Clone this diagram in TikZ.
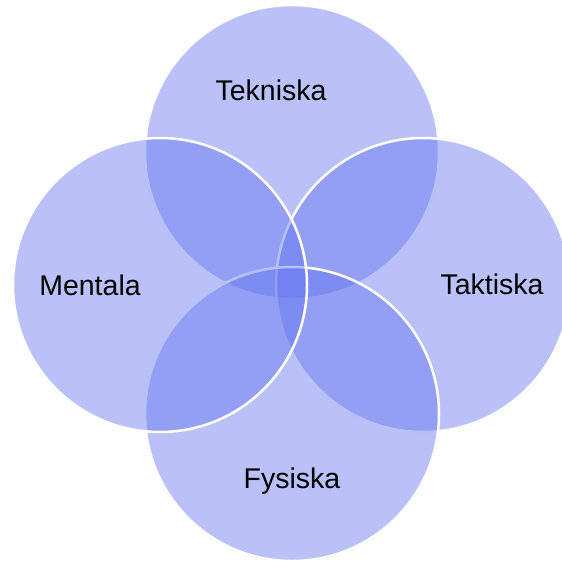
\documentclass[tikz,border=0pt]{standalone}
\usepackage{fontspec}
\setmainfont{Liberation Sans}
\usetikzlibrary{positioning}
\definecolor{vennblue}{RGB}{99,117,240}
\tikzset{
  venn/.style={circle,draw=white,line width=2.5pt,fill=vennblue,fill opacity=.45,minimum size=294pt,inner sep=0pt},
  lbl/.style={font=\fontsize{28.5}{34}\selectfont,anchor=base,inner sep=0pt}
}
\begin{document}
\begin{tikzpicture}[x=1pt,y=-1pt]
\useasboundingbox (0,0) rectangle (562,562);
\foreach \cx/\cy/\nm in {292/152/T,423/285/R,292/414/B,160/285/L}
  \node[venn] (C\nm) at (\cx,\cy) {};

\node[lbl] (Ltek) at (271,100) {Tekniska};
\node[lbl] (Lmen) at (90,295) {Mentala};
\node[lbl] (Ltak) at (492,294) {Taktiska};
\node[lbl] (Lfys) at (292,488) {Fysiska};
\end{tikzpicture}
\end{document}
